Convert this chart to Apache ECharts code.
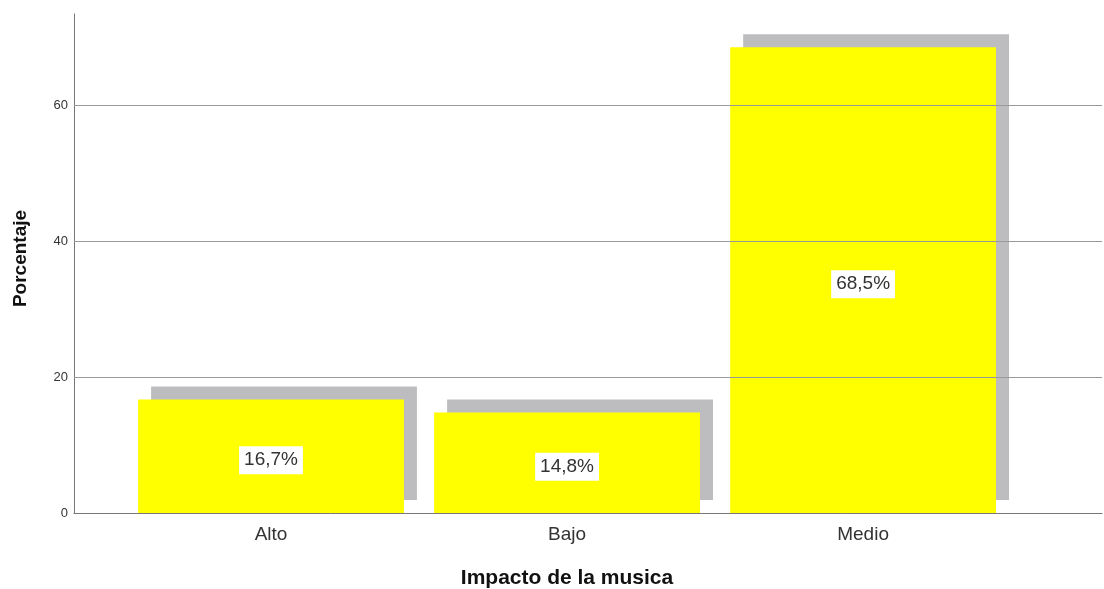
<!DOCTYPE html>
<html lang="es">
<head>
    <meta charset="UTF-8">
    <title>Impacto de la musica</title>
    <script src="https://cdn.jsdelivr.net/npm/echarts@6/dist/echarts.min.js"></script>
    <style>
        html, body { margin: 0; padding: 0; background: #fff; }
    </style>
</head>
<body>
<div id="box" style="width: 1104px;height: 589px;"></div>
<script>
    var categories = ['Alto', 'Bajo', 'Medio'];
    var percents = [16.7, 14.8, 68.5];
    var gridValues = [20, 40, 60];
    var yTicks = [0, 20, 40, 60];

    var font = 'Arial, "Liberation Sans", sans-serif';
    var halfBar = 0.449;
    var shadowShift = 13;

    var myChart = echarts.init(document.getElementById('box'));

    function fmt(v) {
        return v.toFixed(1).replace('.', ',') + '%';
    }

    var option = {
        animation: false,
        backgroundColor: '#fff',
        grid: { left: 74, right: 2, top: 14, bottom: 76, containLabel: false, outerBoundsMode: 'none' },
        xAxis: {
            type: 'value',
            min: -0.6655,
            max: 2.807,
            name: 'Impacto de la musica',
            nameLocation: 'middle',
            nameGap: 55,
            nameTextStyle: { fontFamily: font, fontSize: 21, fontWeight: 'bold', color: '#111', padding: [0, 42, 0, 0] },
            axisLine: { show: true, onZero: false, lineStyle: { color: '#777', width: 1 } },
            axisTick: { show: false },
            splitLine: { show: false },
            axisLabel: {
                customValues: [0, 1, 2],
                margin: 12,
                fontFamily: font,
                fontSize: 19,
                color: '#333',
                formatter: function (v) { return categories[Math.round(v)] || ''; }
            }
        },
        yAxis: {
            type: 'value',
            min: 0,
            max: 73.4,
            name: 'Porcentaje',
            nameLocation: 'middle',
            nameGap: 44,
            nameRotate: 90,
            nameTextStyle: { fontFamily: font, fontSize: 19, fontWeight: 'bold', color: '#111', padding: [0, 0, 0, 10] },
            axisLine: { show: true, onZero: false, lineStyle: { color: '#777', width: 1 } },
            axisTick: { show: false },
            splitLine: { show: false },
            axisLabel: {
                customValues: yTicks,
                margin: 6,
                fontFamily: font,
                fontSize: 13,
                color: '#333'
            }
        },
        series: [{
            type: 'custom',
            data: percents.map(function (v, i) { return [i, v]; }),
            markLine: {
                silent: true,
                symbol: ['none', 'none'],
                label: { show: false },
                lineStyle: { color: '#999', width: 1, type: 'solid' },
                data: gridValues.map(function (g) { return { yAxis: g }; })
            },
            renderItem: function (params, api) {
                var x = api.value(0), v = api.value(1);
                var tl = api.coord([x - halfBar, v]);
                var br = api.coord([x + halfBar, 0]);
                var w = br[0] - tl[0], h = br[1] - tl[1];
                return {
                    type: 'group',
                    children: [{
                        type: 'rect',
                        shape: { x: tl[0] + shadowShift, y: tl[1] - shadowShift, width: w, height: h },
                        style: { fill: '#bdbdbf' }
                    }, {
                        type: 'rect',
                        shape: { x: tl[0], y: tl[1], width: w, height: h },
                        style: { fill: '#ffff00' },
                        textContent: {
                            style: {
                                text: fmt(v),
                                fontFamily: font,
                                fontSize: 19,
                                fill: '#333',
                                backgroundColor: '#fff',
                                padding: [5, 5, 4, 5]
                            }
                        },
                        textConfig: { position: 'inside', offset: [0, 4] }
                    }]
                };
            },
            z: 3
        }]
    };
    myChart.setOption(option);
</script>
</body>
</html>
